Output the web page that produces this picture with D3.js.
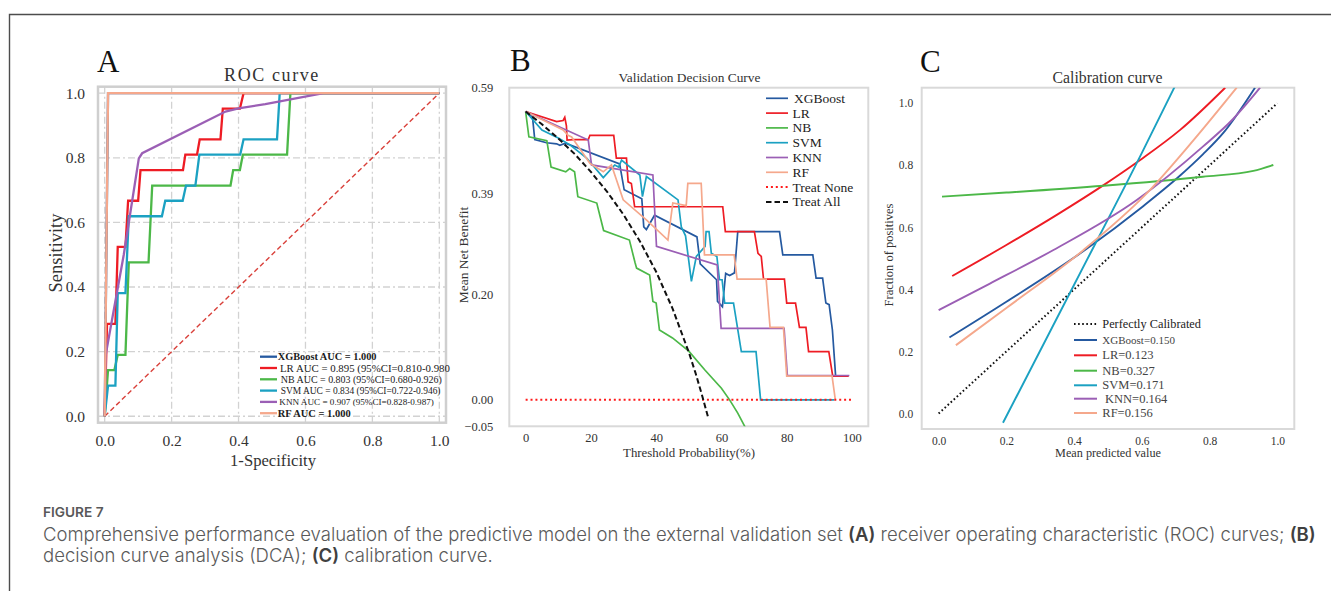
<!DOCTYPE html>
<html>
<head>
<meta charset="utf-8">
<script src="https://cdn.jsdelivr.net/npm/d3@7"></script>
<style>
  body { margin: 0; background: #fff; }
  svg { display: block; }
  .pre { white-space: pre; }
</style>
</head>
<body>
<svg id="fig" width="1331" height="591"></svg>
<script>
// ---------- data ----------
const models = ["XGBoost", "LR", "NB", "SVM", "KNN", "RF"];

// ROC curves: [1-specificity, sensitivity]
const rocXGBoost = [[0,0],[0.01,1],[1,1]];
const rocLR = [[0,0],[0.007,0.286],[0.032,0.286],[0.039,0.524],[0.062,0.524],[0.07,0.667],[0.1,0.667],[0.107,0.762],[0.234,0.762],[0.241,0.81],[0.276,0.81],[0.284,0.857],[0.346,0.857],[0.353,0.952],[0.404,0.952],[0.415,1],[1,1]];
const rocNB = [[0,0],[0.01,0.143],[0.029,0.143],[0.039,0.19],[0.062,0.19],[0.072,0.476],[0.131,0.476],[0.142,0.714],[0.376,0.714],[0.384,0.762],[0.404,0.762],[0.413,0.81],[0.545,0.81],[0.555,1],[1,1]];
const rocSVM = [[0,0],[0.01,0.095],[0.032,0.095],[0.039,0.381],[0.062,0.381],[0.072,0.619],[0.171,0.619],[0.181,0.667],[0.233,0.667],[0.243,0.714],[0.271,0.714],[0.283,0.81],[0.405,0.81],[0.415,0.857],[0.515,0.857],[0.523,1],[1,1]];
const rocKNN = [[0,0],[0.003,0.19],[0.057,0.5],[0.102,0.798],[0.112,0.814],[0.361,0.943],[0.4,0.953],[0.48,0.966],[0.654,1],[1,1]];
const rocRF = [[0,0],[0.01,1],[1,1]];
const rocLegendLabels = [
  "XGBoost AUC = 1.000",
  "LR AUC = 0.895 (95%CI=0.810-0.980",
  "NB AUC = 0.803 (95%CI=0.680-0.926)",
  "SVM AUC = 0.834 (95%CI=0.722-0.946)",
  "KNN AUC = 0.907 (95%CI=0.828-0.987)",
  "RF AUC = 1.000"
];
const rocTicks = [0, 0.2, 0.4, 0.6, 0.8, 1.0];

// Decision curves: [threshold probability (%), net benefit]
const dcaXGBoost = [[0,0.545],[2.1,0.535],[2.8,0.492],[6.4,0.486],[9.5,0.484],[10.5,0.481],[12.2,0.485],[28.8,0.446],[30.2,0.397],[35.6,0.38],[36.2,0.327],[37,0.322],[39.5,0.349],[52.5,0.308],[53.5,0.257],[58.5,0.227],[58.8,0.186],[60.3,0.176],[61.3,0.239],[62.5,0.235],[64,0.24],[65,0.318],[77.8,0.318],[78.8,0.274],[88,0.274],[89,0.23],[91,0.23],[92,0.183],[93,0.18],[94,0.132],[95,0.044]];
const dcaLR = [[0,0.545],[9.5,0.526],[11.5,0.528],[12,0.534],[12.5,0.518],[12.7,0.491],[14.6,0.492],[19.2,0.492],[19.7,0.5],[27,0.5],[27.8,0.457],[30.9,0.457],[31.4,0.412],[32.4,0.409],[33.4,0.365],[60.4,0.365],[61.2,0.318],[70.1,0.318],[71.2,0.277],[72.2,0.271],[72.9,0.228],[79.3,0.228],[80,0.183],[82.7,0.183],[83.9,0.137],[85.9,0.137],[86.7,0.091],[92.9,0.091],[94.1,0.045],[99,0.045]];
const dcaNB = [[0,0.545],[1,0.497],[6.5,0.49],[7.8,0.44],[12.3,0.431],[13.5,0.437],[15,0.431],[16,0.384],[21.8,0.372],[23.9,0.32],[31.8,0.302],[33.5,0.26],[34,0.249],[38,0.236],[39,0.186],[40,0.183],[41,0.132],[45,0.117],[50,0.092],[55,0.056],[60,0.022],[62.5,0],[65,-0.025],[67.3,-0.052]];
const dcaSVM = [[0,0.545],[5,0.51],[10,0.495],[13.6,0.482],[18.7,0.457],[23.8,0.42],[27.3,0.444],[28.5,0.44],[29.4,0.453],[35,0.425],[35.8,0.384],[37,0.422],[46.7,0.378],[47.7,0.327],[49,0.31],[50.8,0.224],[52.3,0.271],[55,0.29],[55.3,0.318],[56.2,0.318],[56.9,0.277],[58.6,0.271],[59.4,0.227],[60.2,0.227],[61,0.183],[63.7,0.183],[66.1,0.091],[70.6,0.091],[72,0],[94.6,0]];
const dcaKNN = [[0,0.545],[19.2,0.491],[20.2,0.444],[39,0.425],[40.1,0.29],[58.7,0.255],[59.9,0.135],[79.2,0.135],[80.2,0.046],[99.2,0.046]];
const dcaRF = [[0,0.545],[11.5,0.51],[13,0.5],[14.1,0.497],[19.7,0.447],[23.8,0.431],[26.3,0.444],[29.9,0.378],[37,0.34],[43.6,0.302],[45.1,0.372],[49.2,0.367],[49.7,0.409],[53.8,0.409],[54.8,0.274],[63.9,0.274],[64.8,0.228],[73.7,0.228],[74.9,0.137],[79,0.137],[80,0.045],[93.9,0.045],[94.9,0]];
const dcaTreatNone = [[0,0],[100,0]];
const dcaTreatAll = [[0,0.545],[5,0.521],[10,0.494],[15,0.465],[20,0.431],[25,0.393],[30,0.35],[35,0.3],[40,0.242],[45,0.173],[50,0.09],[52,0.052],[54,0.01],[56,-0.035]];
const dcaLegendLabels = ["XGBoost", "LR", "NB", "SVM", "KNN", "RF", "Treat None", "Treat All"];
const dcaXTicks = [0, 20, 40, 60, 80, 100];
const dcaYTicks = [-0.05, 0.00, 0.20, 0.39, 0.59];

// Calibration curves: [mean predicted value, fraction of positives]
const calPerfect = [[0,0],[1,1]];
const calXGBoost = [[0.032,0.245],[0.2,0.36],[0.436,0.53],[0.6,0.665],[0.708,0.762],[0.78,0.835],[0.841,0.905],[0.934,1.05]];
const calLR = [[0.04,0.443],[0.2,0.543],[0.35,0.641],[0.487,0.736],[0.595,0.817],[0.713,0.914],[0.846,1.05]];
const calNB = [[0.01,0.699],[0.2,0.712],[0.487,0.734],[0.78,0.763],[0.929,0.782],[0.988,0.801]];
const calSVM = [[0.19,-0.03],[0.4,0.415],[0.6,0.84],[0.7,1.06]];
const calKNN = [[0.0,0.333],[0.15,0.418],[0.339,0.527],[0.585,0.688],[0.78,0.86],[0.87,0.95],[0.949,1.05]];
const calRF = [[0.051,0.22],[0.2,0.34],[0.428,0.527],[0.615,0.71],[0.752,0.88],[0.88,1.05]];
const brierScores = ["0.150", "0.123", "0.327", "0.171", "0.164", "0.156"];
const calTicks = [0, 0.2, 0.4, 0.6, 0.8, 1.0];

// ---------- styles ----------
const colors = ["#2559a0", "#ee1c24", "#4cb848", "#1ba1c2", "#9b5fb5", "#f5a88c"];
const serif = "'Liberation Serif','Times New Roman',serif";

const svg = d3.select("#fig");

// page frame
svg.append("path").attr("d", "M9.5,591 V14.5 H1331")
  .attr("fill", "none").attr("stroke", "#4d4d4d").attr("stroke-width", 1.4);

// scale a text's font size so that it spans the given width
function fitWidth(sel, width) {
  const fs = +sel.attr("font-size");
  const w = sel.node().getComputedTextLength();
  sel.attr("font-size", (fs * width / w).toFixed(2));
  return sel;
}
function label(x, y, t, size, opts = {}) {
  const s = svg.append("text").attr("x", x).attr("y", y).text(t)
    .attr("font-family", serif).attr("font-size", size).attr("fill", opts.fill || "#333")
    .attr("text-anchor", opts.anchor || "middle");
  if (opts.rotate) s.attr("x", null).attr("y", null).attr("transform", `translate(${x},${y}) rotate(-90)`);
  if (opts.spacing) s.attr("letter-spacing", opts.spacing);
  if (opts.width) fitWidth(s, opts.width);
  return s;
}
function panelLetter(x, y, t) {
  svg.append("text").attr("x", x).attr("y", y).text(t)
    .attr("font-family", serif).attr("font-size", 31).attr("fill", "#111");
}
function styleAxis(g, size, color) {
  g.select(".domain").remove();
  g.selectAll("text").attr("font-family", serif).attr("font-size", size).attr("fill", color);
}
function clip(id, x0, y0, x1, y1) {
  svg.append("clipPath").attr("id", id).append("rect")
    .attr("x", x0).attr("y", y0).attr("width", x1 - x0).attr("height", y1 - y0);
}

// ================= Panel A : ROC =================
{
  const L = 98, R = 446, T = 86.7, B = 422.7;
  const x = d3.scaleLinear([-0.02, 1.02], [L, R]);
  const y = d3.scaleLinear([-0.02, 1.02], [B, T]);
  const g = svg.append("g");

  // dash-dot grid
  rocTicks.forEach(t => {
    g.append("line").attr("x1", x(t)).attr("x2", x(t)).attr("y1", T).attr("y2", B)
      .attr("stroke", "#d2d2d2").attr("stroke-width", 1.3).attr("stroke-dasharray", "7,3,2,3");
    g.append("line").attr("y1", y(t)).attr("y2", y(t)).attr("x1", L).attr("x2", R)
      .attr("stroke", "#d2d2d2").attr("stroke-width", 1.3).attr("stroke-dasharray", "7,3,2,3");
  });
  g.append("rect").attr("x", L).attr("y", T).attr("width", R - L).attr("height", B - T)
    .attr("fill", "none").attr("stroke", "#cfcfcf").attr("stroke-width", 2.5);

  const fmt = d3.format(".1f");
  g.append("g").attr("transform", `translate(${L},0)`)
    .call(d3.axisLeft(y).tickValues(rocTicks).tickFormat(fmt).tickSize(0).tickPadding(13))
    .call(a => styleAxis(a, 15.5, "#333"));
  g.append("g").attr("transform", `translate(0,${B})`)
    .call(d3.axisBottom(x).tickValues(rocTicks).tickFormat(fmt).tickSize(0).tickPadding(12.5))
    .call(a => styleAxis(a, 15.5, "#333"));

  // chance diagonal
  g.append("line").attr("x1", x(0)).attr("y1", y(0)).attr("x2", x(1)).attr("y2", y(1))
    .attr("stroke", "#d9403a").attr("stroke-width", 1.4).attr("stroke-dasharray", "5,3");

  const line = d3.line().x(d => x(d[0])).y(d => y(d[1]));
  const rocSeries = [rocXGBoost, rocLR, rocNB, rocSVM, rocKNN, rocRF];
  rocSeries.forEach((s, i) => {
    g.append("path").datum(s).attr("d", line).attr("fill", "none")
      .attr("stroke", colors[i]).attr("stroke-width", 2.3).attr("stroke-linejoin", "miter");
  });

  // legend
  const legX = [277.7, 280, 280.7, 280.7, 279.3, 277.7];
  const legW = [99, 170, 161, 160, 155, 73];
  rocLegendLabels.forEach((lab, i) => {
    const yy = 356.7 + i * 11.3;
    g.append("line").attr("x1", 260).attr("x2", 277).attr("y1", yy).attr("y2", yy)
      .attr("stroke", colors[i]).attr("stroke-width", 2.3);
    const t = g.append("text").attr("x", legX[i]).attr("y", yy).attr("dy", "0.33em")
      .text(lab).attr("font-family", serif).attr("font-size", 11)
      .attr("font-weight", i === 0 || i === 5 ? "bold" : "normal")
      .attr("fill", "#1a1a1a");
    fitWidth(t, legW[i]);
  });

  label(272, 81, "ROC curve", 18, { spacing: 1.6 });
  label(273, 466, "1-Specificity", 18, { width: 86 });
  label(62, 253, "Sensitivity", 18, { rotate: true, width: 79 });
  panelLetter(97, 72, "A");
}

// ================= Panel B : decision curves =================
{
  const L = 509.3, R = 868.3, T = 87.7, B = 426.3;
  const x = d3.scaleLinear([-5, 105], [L, R]);
  const y = d3.scaleLinear([-0.05, 0.59], [B, T]);
  clip("clipB", L, T, R, B);
  const g = svg.append("g");

  g.append("rect").attr("x", L).attr("y", T).attr("width", R - L).attr("height", B - T)
    .attr("fill", "none").attr("stroke", "#d9d9d9").attr("stroke-width", 2);

  g.append("g").attr("transform", `translate(${L},0)`)
    .call(d3.axisLeft(y).tickValues(dcaYTicks).tickFormat(d3.format(".2f")).tickSize(0).tickPadding(16))
    .call(a => styleAxis(a, 12.5, "#333"));
  g.append("g").attr("transform", `translate(0,${B})`)
    .call(d3.axisBottom(x).tickValues(dcaXTicks).tickFormat(d3.format("d")).tickSize(0).tickPadding(7))
    .call(a => styleAxis(a, 12.5, "#333"));

  const line = d3.line().x(d => x(d[0])).y(d => y(d[1]));
  const pg = g.append("g").attr("clip-path", "url(#clipB)");
  const dcaSeries = [dcaXGBoost, dcaLR, dcaNB, dcaSVM, dcaKNN, dcaRF];
  dcaSeries.forEach((s, i) => {
    pg.append("path").datum(s).attr("d", line).attr("fill", "none")
      .attr("stroke", colors[i]).attr("stroke-width", 1.7);
  });
  pg.append("path").datum(dcaTreatNone).attr("d", line).attr("fill", "none")
    .attr("stroke", "#ff1a1a").attr("stroke-width", 2).attr("stroke-dasharray", "2,2.9");
  pg.append("path").datum(dcaTreatAll).attr("d", line).attr("fill", "none")
    .attr("stroke", "#111").attr("stroke-width", 2).attr("stroke-dasharray", "5.5,3");

  // legend
  dcaLegendLabels.forEach((lab, i) => {
    const yy = 98.3 + i * 14.8;
    const l = g.append("line").attr("x1", 766).attr("x2", 788).attr("y1", yy).attr("y2", yy)
      .attr("stroke-width", i >= 6 ? 2 : 1.7);
    if (i < 6) l.attr("stroke", colors[i]);
    else if (i === 6) l.attr("stroke", "#ff1a1a").attr("stroke-dasharray", "2,2.9");
    else l.attr("stroke", "#111").attr("stroke-dasharray", "5.5,3");
    g.append("text").attr("x", i === 0 ? 794 : 792.5).attr("y", yy).attr("dy", "0.33em").text(lab)
      .attr("font-family", serif).attr("font-size", 13.5).attr("fill", "#222");
  });

  label(689.5, 81.5, "Validation Decision Curve", 13.5, { width: 142 });
  label(689, 457, "Threshold Probability(%)", 13.5, { width: 132 });
  label(468, 255, "Mean Net Benefit", 13.5, { rotate: true });
  panelLetter(510, 71, "B");
}

// ================= Panel C : calibration =================
{
  const L = 921.7, R = 1294.3, T = 87.7, B = 429;
  const x = d3.scaleLinear([-0.05, 1.05], [L, R]);
  const y = d3.scaleLinear([-0.05, 1.05], [B, T]);
  clip("clipC", L, T, R, B);
  const g = svg.append("g");

  g.append("rect").attr("x", L).attr("y", T).attr("width", R - L).attr("height", B - T)
    .attr("fill", "none").attr("stroke", "#d9d9d9").attr("stroke-width", 2);

  const fmt = d3.format(".1f");
  g.append("g").attr("transform", `translate(${L},0)`)
    .call(d3.axisLeft(y).tickValues(calTicks).tickFormat(fmt).tickSize(0).tickPadding(8.5))
    .call(a => styleAxis(a, 11.5, "#333"));
  g.append("g").attr("transform", `translate(0,${B})`)
    .call(d3.axisBottom(x).tickValues(calTicks).tickFormat(fmt).tickSize(0).tickPadding(8))
    .call(a => styleAxis(a, 11.5, "#333"));

  const pg = g.append("g").attr("clip-path", "url(#clipC)");
  const straight = d3.line().x(d => x(d[0])).y(d => y(d[1]));
  const smooth = d3.line().x(d => x(d[0])).y(d => y(d[1])).curve(d3.curveMonotoneX);
  pg.append("path").datum(calPerfect).attr("d", straight).attr("fill", "none")
    .attr("stroke", "#111").attr("stroke-width", 2).attr("stroke-dasharray", "1.6,2.5");
  const calSeries = [calXGBoost, calLR, calNB, calSVM, calKNN, calRF];
  calSeries.forEach((s, i) => {
    pg.append("path").datum(s).attr("d", smooth).attr("fill", "none")
      .attr("stroke", colors[i]).attr("stroke-width", 1.9);
  });

  // legend
  const labels = ["Perfectly Calibrated"].concat(models.map((m, i) => `${m}=${brierScores[i]}`));
  const rowY = [324, 340, 355.3, 370.7, 385.3, 398.7, 413];
  labels.forEach((lab, i) => {
    const yy = rowY[i];
    const l = g.append("line").attr("x1", 1074).attr("x2", 1097).attr("y1", yy).attr("y2", yy)
      .attr("stroke-width", 2);
    if (i === 0) l.attr("stroke", "#111").attr("stroke-dasharray", "1.6,2.5");
    else l.attr("stroke", colors[i - 1]);
    const t = g.append("text").attr("x", i === 5 ? 1105 : 1102.3).attr("y", yy).attr("dy", "0.33em").text(lab)
      .attr("font-family", serif).attr("font-size", 12.5)
      .attr("fill", i === 0 ? "#222" : "#444");
    if (i === 0) fitWidth(t, 98.7);
    if (i === 1) fitWidth(t, 72.7);
  });

  label(1107.5, 83, "Calibration curve", 14, { width: 110 });
  label(1108, 457, "Mean predicted value", 12.5, { width: 106 });
  label(893, 255, "Fraction of positives", 12.5, { rotate: true });
  panelLetter(920, 72, "C");
}

// ================= Caption =================
{
  const sans = "Inter,'Open Sans',sans-serif";
  const fig = svg.append("text").attr("x", 43).attr("y", 517).text("FIGURE 7")
    .attr("font-family", sans).attr("font-size", 13.5).attr("font-weight", 600).attr("fill", "#595959");
  fitWidth(fig, 60.7);

  const lines = [
    [["Comprehensive performance evaluation of the predictive model on the external validation set ", 0], ["(A)", 1],
     [" receiver operating characteristic (ROC) curves; ", 0], ["(B)", 1]],
    [["decision curve analysis (DCA); ", 0], ["(C)", 1], [" calibration curve.", 0]]
  ];
  // each run is its own text element, placed after the previous one
  function layout(fs) {
    svg.selectAll(".cap").remove();
    const widths = [];
    lines.forEach((parts, k) => {
      let cx = 43;
      parts.forEach(p => {
        const t = svg.append("text").attr("class", "cap pre").attr("x", cx).attr("y", 541 + k * 20.5)
          .attr("font-family", sans).attr("font-size", fs)
          .attr("font-weight", p[1] ? 600 : 300).attr("fill", p[1] ? "#404040" : "#5a5a5a")
          .text(p[0]);
        cx += t.node().getComputedTextLength();
      });
      widths.push(cx - 43);
    });
    return widths;
  }
  const w = layout(16);
  layout(16 * 1273 / w[0]);
}
</script>
</body>
</html>
